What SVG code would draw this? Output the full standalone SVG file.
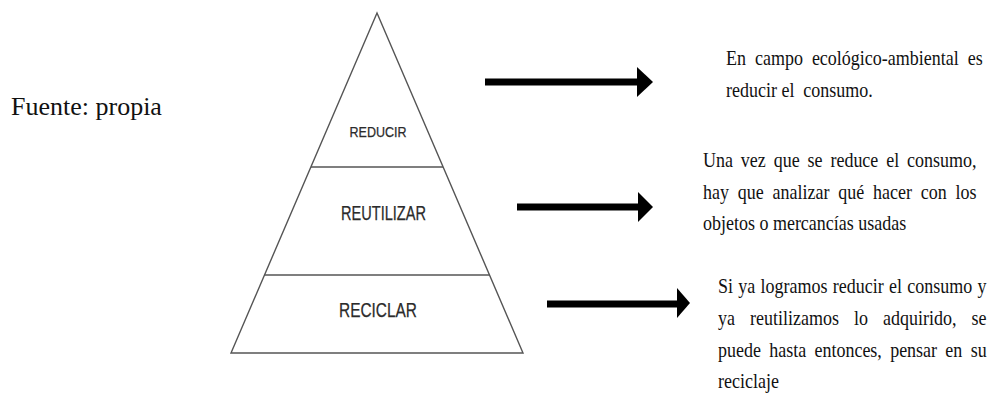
<svg xmlns="http://www.w3.org/2000/svg" width="990" height="412" viewBox="0 0 990 412">
<style>
.bg{fill:#ffffff}
.pyr{fill:none;stroke:#555555;stroke-width:1.4;stroke-linejoin:miter}
.lvl{font-family:"Liberation Sans","Open Sans",sans-serif;fill:#2b2b2b;text-anchor:middle;stroke:#2b2b2b;stroke-width:0.25}
.txt{font-family:"Liberation Serif","Times New Roman",serif;font-size:18px;fill:#111111}
.src{font-family:"Liberation Serif","Times New Roman",serif;font-size:26px;fill:#111111}
.shaft{stroke:#000000;stroke-width:7;fill:none}
.head{fill:#000000}
</style>
<rect class="bg" x="0" y="0" width="990" height="412"/>
<text class="src" x="11" y="115">Fuente: propia</text>
<g id="pyramid">
  <polygon class="pyr" points="377,13 523,353 231,353"/>
  <line class="pyr" x1="311" y1="167" x2="443" y2="167"/>
  <line class="pyr" x1="264" y1="275" x2="490" y2="275"/>
</g>
<g id="reducir">
  <text class="lvl" x="378" y="137" font-size="14" textLength="57" lengthAdjust="spacingAndGlyphs">REDUCIR</text>
</g>
<g id="reutilizar">
  <text class="lvl" x="383.5" y="220" font-size="20" textLength="85" lengthAdjust="spacingAndGlyphs">REUTILIZAR</text>
</g>
<g id="reciclar">
  <text class="lvl" x="378" y="317" font-size="20.5" textLength="78" lengthAdjust="spacingAndGlyphs">RECICLAR</text>
</g>
<g id="connectors">
  <line class="shaft" x1="485" y1="82" x2="639" y2="82"/>
  <polygon class="head" points="637,67 653,82 637,97"/>
  <line class="shaft" x1="517" y1="207" x2="640" y2="207"/>
  <polygon class="head" points="638,192 653,207 638,222"/>
  <line class="shaft" x1="547" y1="304" x2="679" y2="304"/>
  <polygon class="head" points="677,288 690,303 677,318"/>
</g>
<g id="desc-reducir">
  <text class="txt" transform="translate(726,65) scale(1,1.15)" x="0" y="0" word-spacing="4.5">En campo ecológico-ambiental es</text>
  <text class="txt" transform="translate(726,97) scale(1,1.15)" x="0" y="0" xml:space="preserve">reducir el  consumo.</text>
</g>
<g id="desc-reutilizar">
  <text class="txt" transform="translate(703,167) scale(1,1.15)" x="0" y="0" word-spacing="3.4">Una vez que se reduce el consumo,</text>
  <text class="txt" transform="translate(703,199) scale(1,1.15)" x="0" y="0" word-spacing="4.3">hay que analizar qué hacer con los</text>
  <text class="txt" transform="translate(703,230) scale(1,1.15)" x="0" y="0">objetos o mercancías usadas</text>
</g>
<g id="desc-reciclar">
  <text class="txt" transform="translate(718,293) scale(1,1.15)" x="0" y="0" word-spacing="0.8">Si ya logramos reducir el consumo y</text>
  <text class="txt" transform="translate(718,325) scale(1,1.15)" x="0" y="0" word-spacing="10.6">ya reutilizamos lo adquirido, se</text>
  <text class="txt" transform="translate(718,357) scale(1,1.15)" x="0" y="0" word-spacing="3.8">puede hasta entonces, pensar en su</text>
  <text class="txt" transform="translate(718,388) scale(1,1.15)" x="0" y="0">reciclaje</text>
</g>
</svg>
